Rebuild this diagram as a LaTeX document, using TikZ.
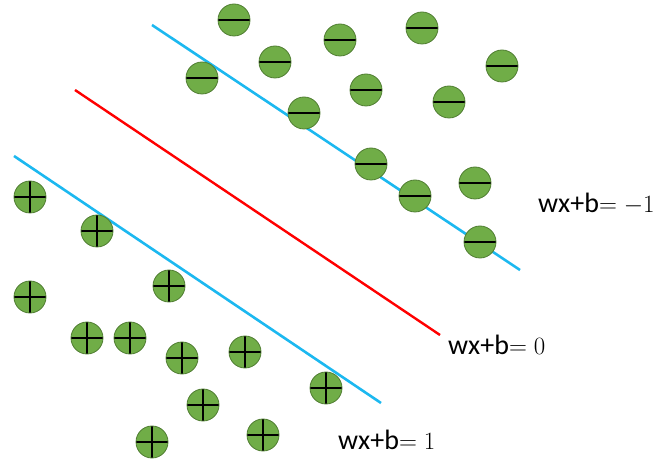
\documentclass[tikz,border=0pt]{standalone}
\usepackage{fontspec}
\newfontfamily\calfont{Carlito}
\definecolor{dotfill}{HTML}{70AD47}
\definecolor{dotedge}{HTML}{507E32}
\definecolor{margin}{HTML}{1CB8F0}

\begin{document}
\begin{tikzpicture}[x=1pt,y=-1pt,
  dot/.style={circle,fill=dotfill,draw=dotedge,line width=0.8pt,minimum size=32pt,inner sep=0pt},
  negdot/.style={dot,path picture={\draw[black,line width=1.6pt] (path picture bounding box.west) -- (path picture bounding box.east);}},
  posdot/.style={dot,path picture={\draw[black,line width=1.6pt] (path picture bounding box.west) -- (path picture bounding box.east);
    \draw[black,line width=1.6pt] (path picture bounding box.north) -- (path picture bounding box.south);}},
  bound/.style={line width=2.6pt,margin},
  hyper/.style={line width=2.4pt,red},
  eq/.style={anchor=base west,inner sep=0pt,font=\fontsize{28}{32}\selectfont}]
\useasboundingbox (0,0) rectangle (670,465);
% ---- hyperplanes ----
\draw[bound] (152,25) -- (520,270);
\draw[hyper] (75,90) -- (440,335);
\draw[bound] (14,156) -- (381,403);
% ---- negative class ----
\node[negdot] (m1) at (234,20) {};
\node[negdot] (m2) at (275,62) {};
\node[negdot] (m3) at (340,40) {};
\node[negdot] (m4) at (422,28) {};
\node[negdot] (m5) at (502,66) {};
\node[negdot] (m6) at (202,78) {};
\node[negdot] (m7) at (366,90) {};
\node[negdot] (m8) at (304,113) {};
\node[negdot] (m9) at (449,102) {};
\node[negdot] (m10) at (371,164) {};
\node[negdot] (m11) at (415,196) {};
\node[negdot] (m12) at (475,183) {};
\node[negdot] (m13) at (480,242) {};
% ---- positive class ----
\node[posdot] (p1) at (30,197) {};
\node[posdot] (p2) at (97,231) {};
\node[posdot] (p3) at (30,297) {};
\node[posdot] (p4) at (169,286) {};
\node[posdot] (p5) at (87,338) {};
\node[posdot] (p6) at (130,338) {};
\node[posdot] (p7) at (182,358) {};
\node[posdot] (p8) at (245,352) {};
\node[posdot] (p9) at (326,388) {};
\node[posdot] (p10) at (203,405) {};
\node[posdot] (p11) at (263,435) {};
\node[posdot] (p12) at (152,442) {};
% ---- labels ----
\node[eq] (lneg) at (538,213) {{\calfont wx+b}${=}\;{-}1$};
\node[eq] (lzero) at (448,355) {{\calfont wx+b}${=}\;0$};
\node[eq] (lpos) at (338,449) {{\calfont wx+b}${=}\;1$};
\end{tikzpicture}
\end{document}
